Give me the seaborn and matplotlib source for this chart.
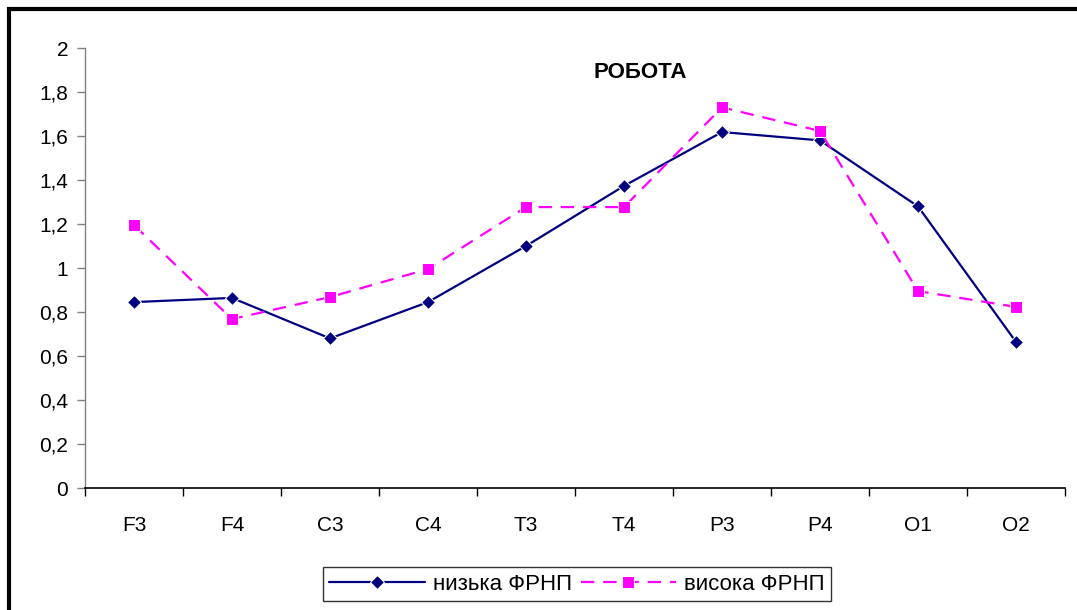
import matplotlib
matplotlib.use("Agg")
import matplotlib.pyplot as plt
from matplotlib.ticker import FuncFormatter, FixedLocator
from matplotlib.patches import Rectangle
import seaborn as sns
import pandas as pd

# --- Datos ---
CANALES = ["F3", "F4", "C3", "C4", "T3", "T4", "P3", "P4", "O1", "O2"]
NIZKA = [0.845, 0.864, 0.68, 0.845, 1.10, 1.373, 1.618, 1.58, 1.28, 0.664]
VYSOKA = [1.195, 0.768, 0.868, 0.995, 1.277, 1.277, 1.73, 1.623, 0.895, 0.823]
SERIES = ["низька ФРНП", "висока ФРНП"]
TITULO = "РОБОТА"

sns.set_style("white")
plt.rcParams["font.family"] = ["Liberation Sans", "DejaVu Sans"]
plt.rcParams["text.color"] = "black"
plt.rcParams["xtick.color"] = "black"
plt.rcParams["ytick.color"] = "black"

df = pd.DataFrame({"canal": CANALES, SERIES[0]: NIZKA, SERIES[1]: VYSOKA})

fig = plt.figure(figsize=(10.77, 6.10), dpi=100)
ax = fig.add_axes([85 / 1077, 1 - 488 / 610, 980 / 1077, 440 / 610])

sns.lineplot(data=df, x="canal", y=SERIES[0], ax=ax, color="#000080",
             marker="D", markersize=7, linewidth=1.6, label=SERIES[0])
sns.lineplot(data=df, x="canal", y=SERIES[1], ax=ax, color="#FF00FF",
             marker="s", markersize=8, linewidth=1.6, linestyle=(0, (6, 4)),
             label=SERIES[1])

ax.set_xlim(-0.5, len(CANALES) - 0.5)
ax.set_ylim(0, 2)
ax.set_yticks([i * 0.2 for i in range(11)])
ax.yaxis.set_major_formatter(FuncFormatter(lambda v, p: f"{v:.1f}".replace(".", ",").replace(",0", "")))
ax.set_xlabel("")
ax.set_ylabel("")

ax.xaxis.set_minor_locator(FixedLocator([i - 0.5 for i in range(len(CANALES) + 1)]))
ax.tick_params(axis="x", which="major", length=0, pad=20, labelsize=15, labelcolor="black")
ax.tick_params(axis="x", which="minor", length=6, width=1, color="black", direction="out", bottom=True)
ax.tick_params(axis="y", length=6, width=1, color="#808080", direction="out", left=True,
               labelsize=15, pad=6, labelcolor="black")

for s in ["top", "right"]:
    ax.spines[s].set_visible(False)
ax.spines["left"].set_color("#808080")
ax.spines["left"].set_linewidth(1)
ax.spines["bottom"].set_color("black")
ax.spines["bottom"].set_linewidth(1.2)
ax.grid(False)

fig.text(640 / 1077, 1 - 72 / 610, TITULO, fontsize=16, fontweight="bold",
         ha="center", va="center", color="black")

leg = ax.legend(loc="center", bbox_to_anchor=(577 / 1077, 1 - 584 / 610),
                bbox_transform=fig.transFigure, ncol=2, fontsize=16,
                handlelength=4.3, columnspacing=0.4, handletextpad=0.35,
                frameon=True, fancybox=False, borderpad=0.3)
leg.get_frame().set_edgecolor("black")
leg.get_frame().set_linewidth(1)
for t in leg.get_texts():
    t.set_color("black")

# marco exterior
fig.patches.append(Rectangle((9 / 1077, -0.05), 1.1, 1 - 9 / 610 + 0.05,
                             transform=fig.transFigure, fill=False,
                             edgecolor="black", linewidth=3))

fig.savefig("out.png", dpi=100)
